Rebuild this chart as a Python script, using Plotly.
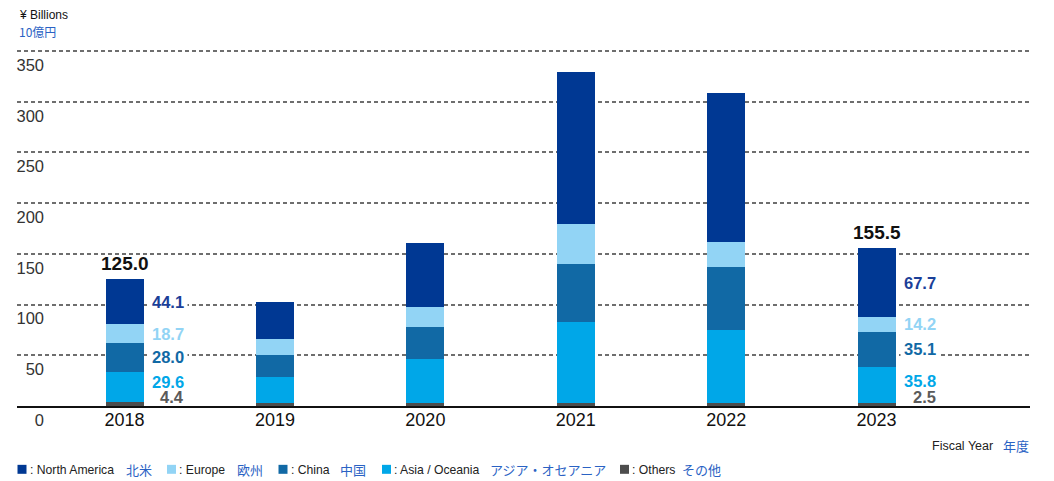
import plotly.graph_objects as go

years = ["2018", "2019", "2020", "2021", "2022", "2023"]
others = [4.4, 3.1, 2.5, 2.5, 2.5, 2.5]
asia = [29.6, 25.9, 44.2, 80.6, 72.7, 35.8]
china = [28.0, 21.3, 31.5, 57.0, 62.0, 35.1]
europe = [18.7, 16.1, 19.9, 39.3, 24.5, 14.2]
north_america = [44.1, 36.3, 62.6, 149.5, 146.5, 67.7]
totals = [125.0, 102.7, 160.7, 328.9, 308.2, 155.5]
labeled_years = ["2018", "2023"]
y_ticks = [0, 50, 100, 150, 200, 250, 300, 350]

series = [
    ("Others", "その他", others, "#4d4d4d", "#5a5a5a"),
    ("Asia / Oceania", "アジア・オセアニア", asia, "#00a7e8", "#00a7e8"),
    ("China", "中国", china, "#1169a5", "#1169a5"),
    ("Europe", "欧州", europe, "#92d4f5", "#92d4f5"),
    ("North America", "北米", north_america, "#003893", "#1b3f98"),
]

JP_BLUE = "#2a62c4"
FONT = "Liberation Sans, Arial, sans-serif"
JPFONT = "Noto Sans CJK JP"

L, R, T, B = 17, 24, 48.5, 74.5
PW, PH = 1054 - L - R, 481 - T - B


def px_x(px):
    return (px - L) / PW


def px_y(py):
    return (481 - B - py) / PH


fig = go.Figure()
for name, jp, vals, col, _ in series:
    fig.add_trace(go.Bar(x=years, y=vals, name=name, marker_color=col,
                         marker_line_width=0, width=0.253, showlegend=False,
                         hoverinfo="skip"))

# invisible trace to carry the label axis
fig.add_trace(go.Scatter(x=years, y=totals, yaxis="y2", mode="markers",
                         marker=dict(opacity=0), hoverinfo="skip", showlegend=False))

ann = []
for i, y in enumerate(years):
    if y in labeled_years:
        ann.append(dict(x=i, y=totals[i], xref="x", yref="y", text=f"{totals[i]:.1f}",
                        showarrow=False, yanchor="bottom", yshift=3,
                        font=dict(family=FONT, size=19, color="#111", weight="bold")))
        base = 0
        for name, jp, vals, col, tcol in series:
            v = vals[i]
            mid = base + v / 2
            if name == "Others":
                yy, ys, bg, bp = 0, 9.5, "rgba(0,0,0,0)", 0
            elif name == "Asia / Oceania":
                yy, ys, bg, bp = mid, 4.5, "rgba(0,0,0,0)", 0
            else:
                yy, ys, bg, bp = mid, 0, "white", 3
            ann.append(dict(x=i, y=yy, xref="x", yref="y", text=f"{v:.1f}",
                            showarrow=False, xanchor="right", yanchor="middle",
                            xshift=63 - (3 - bp), yshift=ys, bgcolor=bg, borderpad=bp,
                            font=dict(family=FONT, size=16.5, color=tcol, weight="bold")))
            base += v

# unit labels
ann.append(dict(x=px_x(17), y=px_y(14), xref="paper", yref="paper", text="¥ Billions",
                showarrow=False, xanchor="left", yanchor="middle",
                font=dict(family=FONT, size=12, color="#111")))
ann.append(dict(x=px_x(17), y=px_y(31), xref="paper", yref="paper", text="10億円",
                showarrow=False, xanchor="left", yanchor="middle",
                font=dict(family=JPFONT, size=12, color=JP_BLUE)))

ann.append(dict(x=px_x(995), y=px_y(446.5), xref="paper", yref="paper", text="Fiscal Year",
                showarrow=False, xanchor="right", yanchor="middle",
                font=dict(family=FONT, size=12.5, color="#222")))
ann.append(dict(x=px_x(1001), y=px_y(446.5), xref="paper", yref="paper", text="年度",
                showarrow=False, xanchor="left", yanchor="middle",
                font=dict(family=JPFONT, size=13, color=JP_BLUE)))

# legend (manual)
legend_pos = {"North America": (17.5, 124), "Europe": (167, 235), "China": (278.5, 338),
              "Asia / Oceania": (382, 488), "Others": (620, 680)}
shapes = []
for name, jp, vals, col, _ in reversed(series):
    sx, jx = legend_pos[name]
    shapes.append(dict(type="rect", xref="paper", yref="paper",
                       x0=px_x(sx), x1=px_x(sx + 9), y0=px_y(474.5), y1=px_y(465.5),
                       fillcolor=col, line_width=0))
    ann.append(dict(x=px_x(sx + 10), y=px_y(470.5), xref="paper", yref="paper",
                    text=": " + name, showarrow=False, xanchor="left", yanchor="middle",
                    font=dict(family=FONT, size=12.2, color="#222")))
    ann.append(dict(x=px_x(jx), y=px_y(470.5), xref="paper", yref="paper",
                    text=jp, showarrow=False, xanchor="left", yanchor="middle",
                    font=dict(family=JPFONT, size=13, color=JP_BLUE)))

fig.update_layout(
    width=1054, height=481,
    margin=dict(l=L, r=R, t=T, b=B, autoexpand=False),
    barmode="stack", bargap=0,
    plot_bgcolor="white", paper_bgcolor="white",
    annotations=ann, shapes=shapes,
    xaxis=dict(type="category", range=[-0.715, 6.02], showline=True, linecolor="#111",
               linewidth=2, ticks="", showgrid=False, zeroline=False, automargin=False,
               tickfont=dict(family=FONT, size=18, color="#111"), ticklabelstandoff=-4),
    yaxis=dict(range=[0, 352], tickvals=y_ticks[1:], showticklabels=False, showgrid=True,
               gridcolor="#6e6e6e", gridwidth=1.5, griddash="4px,3px", zeroline=False,
               ticks="", automargin=False),
    yaxis2=dict(range=[0, 352], overlaying="y", anchor="free", side="left",
                position=px_x(46), tickvals=y_ticks, showgrid=False, zeroline=False,
                showline=False, ticks="", ticklabelshift=14, ticklabelstandoff=2,
                automargin=False,
                tickfont=dict(family=FONT, size=16.5, color="#333")),
)

fig.write_html("out.html", post_script="document.body.style.margin='0';",
               config={"displayModeBar": False})
